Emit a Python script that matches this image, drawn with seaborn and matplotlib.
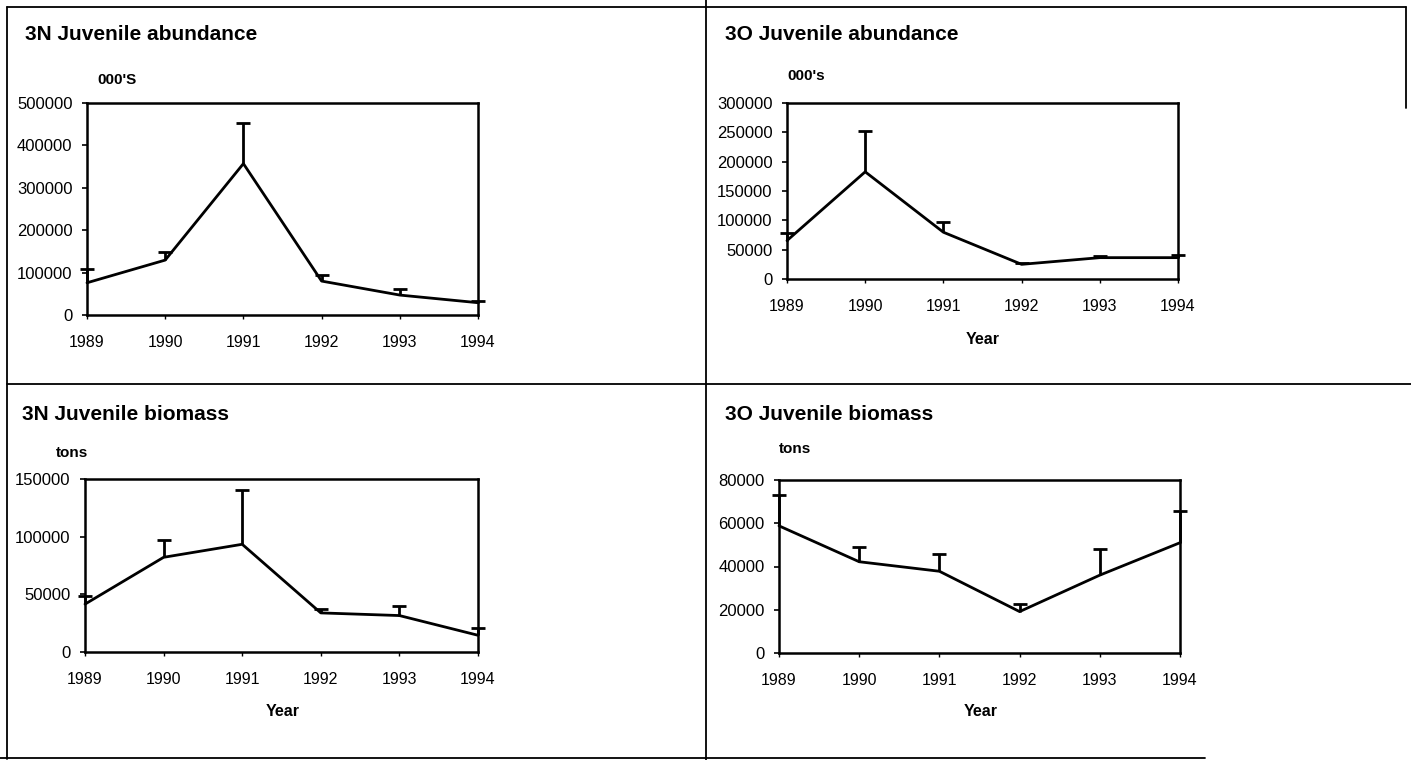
import matplotlib
matplotlib.use("Agg")
import matplotlib.pyplot as plt
from matplotlib.lines import Line2D
import seaborn as sns
import pandas as pd
import numpy as np

# Survey years
years = [1989, 1990, 1991, 1992, 1993, 1994]

# 3N juvenile abundance (000's): estimate and upper error limit
abund_3n = [76000, 129500, 357000, 80000, 47000, 29000]
abund_3n_upper = [107500, 147600, 453000, 93400, 62000, 33000]

# 3O juvenile abundance (000's)
abund_3o = [65500, 182700, 79700, 25000, 36400, 36400]
abund_3o_upper = [78000, 251600, 97900, 26700, 39800, 41000]

# 3N juvenile biomass (tons)
biom_3n = [41500, 82100, 93400, 33900, 31600, 14500]
biom_3n_upper = [48500, 96900, 140700, 37400, 40300, 20600]

# 3O juvenile biomass (tons)
biom_3o = [58800, 42200, 37800, 19150, 36000, 51000]
biom_3o_upper = [73000, 48800, 46000, 22700, 47900, 65800]

titles = ["3N Juvenile abundance", "3O Juvenile abundance",
          "3N Juvenile biomass", "3O Juvenile biomass"]
units = ["000'S", "000's", "tons", "tons"]
y_ticks = [np.arange(0, 500001, 100000), np.arange(0, 300001, 50000),
           np.arange(0, 150001, 50000), np.arange(0, 80001, 20000)]
show_year_label = [False, True, True, True]

sns.set_theme(style="white")
plt.rcParams["font.family"] = ["Liberation Sans", "DejaVu Sans"]

W, H = 1411, 760
fig = plt.figure(figsize=(W / 100, H / 100), dpi=100)
fig.patch.set_facecolor("white")


def px_rect(x0, x1, y0, y1):
    return [x0 / W, 1 - y1 / H, (x1 - x0) / W, (y1 - y0) / H]


# axes boxes in pixel coordinates (left, right, top, bottom)
boxes = [(87, 478, 103, 315), (787, 1178, 103, 279),
         (85, 478, 479, 652), (779, 1180, 480, 653)]
title_pos = [(25, 35), (725, 35), (22, 415), (725, 415)]
unit_pos = [(97, 80), (787, 76), (56, 453), (779, 449)]
year_pos = [None, (983, 339), (283, 712), (981, 712)]

series = [(abund_3n, abund_3n_upper), (abund_3o, abund_3o_upper),
          (biom_3n, biom_3n_upper), (biom_3o, biom_3o_upper)]

LW = 2.0

for i, (vals, upper) in enumerate(series):
    x0, x1, y0, y1 = boxes[i]
    ax = fig.add_axes(px_rect(x0, x1, y0, y1))
    df = pd.DataFrame({"Year": years, "value": vals})
    sns.lineplot(data=df, x="Year", y="value", ax=ax, color="black",
                 linewidth=LW, clip_on=False)
    # upper-only error bars
    err_up = np.array(upper) - np.array(vals)
    _, caps, _ = ax.errorbar(years, vals,
                             yerr=[np.zeros(len(vals)), err_up], fmt="none",
                             ecolor="black", elinewidth=LW, capsize=4.8,
                             capthick=LW, clip_on=False)
    caps[0].set_visible(False)
    ax.set_xlim(years[0], years[-1])
    ax.set_ylim(y_ticks[i][0], y_ticks[i][-1])
    ax.set_xticks(years)
    ax.set_xticklabels([str(y) for y in years])
    ax.set_yticks(y_ticks[i])
    ax.set_yticklabels([str(int(t)) for t in y_ticks[i]])
    ax.set_xlabel("")
    ax.set_ylabel("")
    ax.tick_params(axis="x", direction="out", length=3, width=1, pad=11.5,
                   labelsize=11.5, colors="black", bottom=True)
    ax.tick_params(axis="y", direction="out", length=3.5, width=1.2, pad=7,
                   labelsize=12, colors="black", left=True)
    for sp in ax.spines.values():
        sp.set_visible(True)
        sp.set_color("black")
        sp.set_linewidth(1.8)
    ax.set_facecolor("white")

    tx, ty = title_pos[i]
    fig.text(tx / W, 1 - ty / H, titles[i], fontsize=15, fontweight="bold",
             ha="left", va="center", color="black")
    ux, uy = unit_pos[i]
    fig.text(ux / W, 1 - uy / H, units[i], fontsize=11, fontweight="bold",
             ha="left", va="center", color="black")
    if year_pos[i] is not None:
        yx, yy = year_pos[i]
        fig.text(yx / W, 1 - yy / H, "Year", fontsize=11.5, fontweight="bold",
                 ha="center", va="center", color="black")

# panel frame lines
frame = [((7, 7), (7, 759)), ((7, 1406), (7, 7)), ((1406, 1406), (7, 108)),
         ((706, 706), (0, 760)), ((7, 1411), (384, 384)), ((0, 1205), (758, 758))]
for xs, ys in frame:
    fig.add_artist(Line2D([x / W for x in xs], [1 - y / H for y in ys],
                          color="black", linewidth=1.3,
                          transform=fig.transFigure))

fig.savefig("out.png", dpi=100, facecolor="white")
